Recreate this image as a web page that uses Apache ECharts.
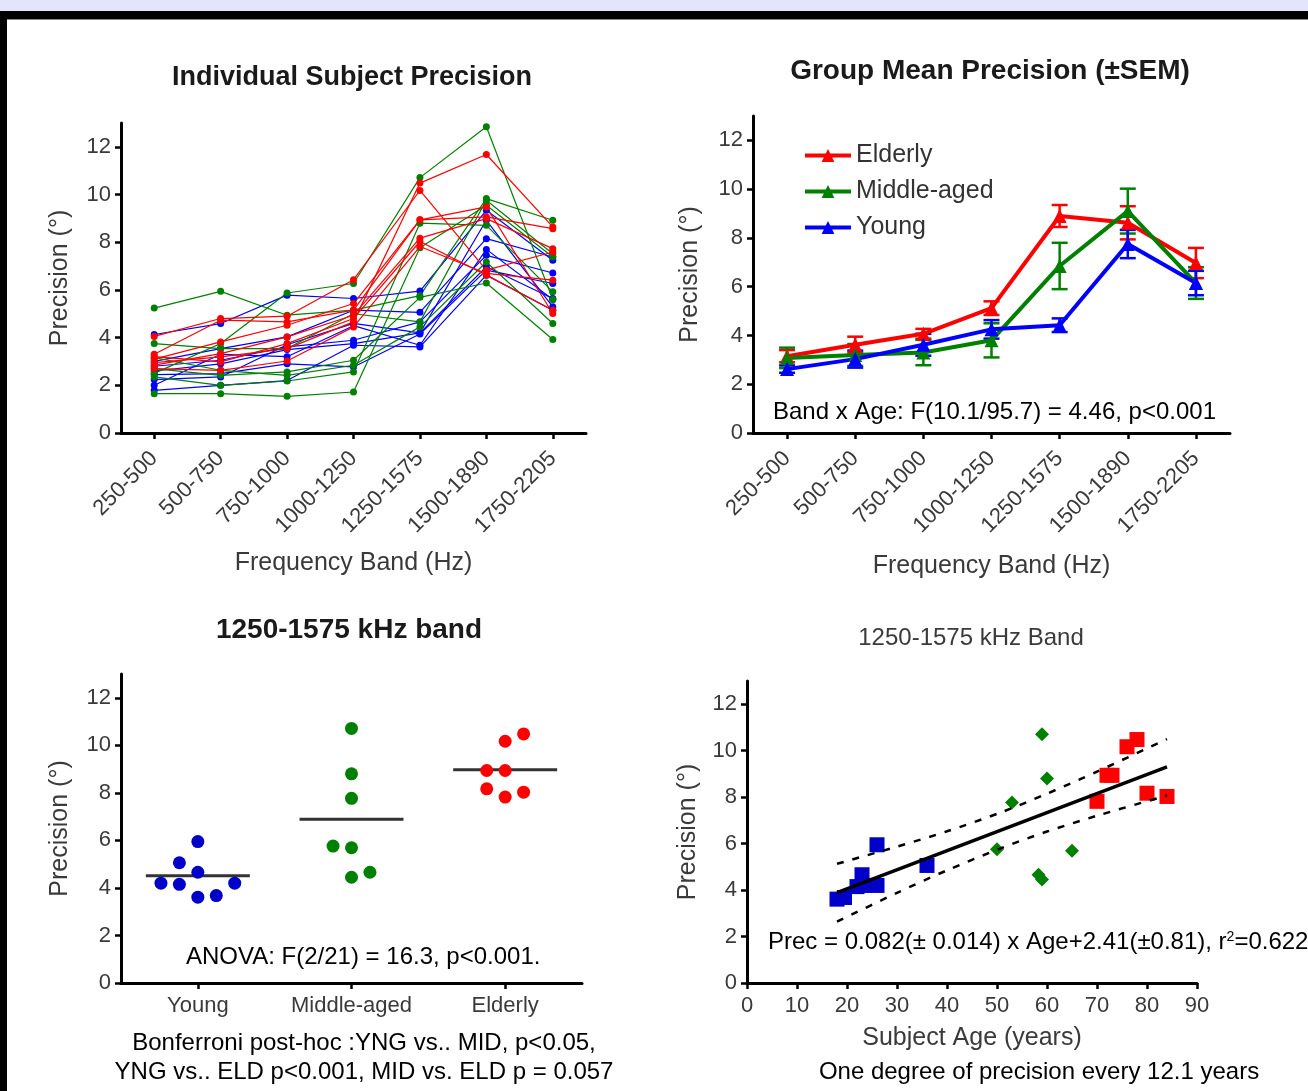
<!DOCTYPE html>
<html>
<head>
<meta charset="utf-8">
<style>
html, body { margin: 0; padding: 0; background: #fff; }
#chart { width: 1308px; height: 1091px; }
</style>
<script src="https://cdn.jsdelivr.net/npm/echarts@6/dist/echarts.min.js"></script>
</head>
<body>
<div id="chart"></div>
<script>
// ---- data ----
const bands = ['250-500', '500-750', '750-1000', '1000-1250', '1250-1575', '1500-1890', '1750-2205'];
const yTicks = [0, 2, 4, 6, 8, 10, 12];
const groups = ['Young', 'Middle-aged', 'Elderly'];

// individual subjects, precision per band
const youngSubjects = [
    [4.13, 4.59, 5.78, 5.64, 5.95, 9.34, 7.24],
    [3.00, 3.54, 4.03, 5.15, 5.06, 8.15, 7.38],
    [2.80, 3.05, 3.61, 3.89, 4.66, 7.45, 6.71],
    [2.60, 2.90, 3.50, 3.75, 4.20, 6.97, 5.64],
    [2.45, 2.49, 2.90, 2.77, 4.15, 6.83, 6.27],
    [2.24, 2.35, 3.70, 4.60, 4.20, 8.92, 5.29],
    [1.79, 2.00, 2.20, 3.68, 3.61, 6.62, 5.15],
    [2.00, 3.30, 3.20, 4.50, 3.68, 7.70, 5.60]
];
const middleSubjects = [
    [2.50, 3.75, 5.87, 6.27, 10.71, 12.84, 5.60],
    [5.24, 5.94, 4.94, 5.15, 5.76, 9.83, 8.92],
    [3.75, 3.54, 3.54, 5.00, 4.66, 9.76, 7.52],
    [1.65, 1.65, 1.54, 1.72, 7.77, 9.55, 7.38],
    [2.35, 2.00, 2.18, 2.56, 8.80, 8.71, 5.92],
    [3.16, 2.63, 2.42, 2.84, 4.45, 7.17, 4.59],
    [2.70, 2.42, 2.56, 3.05, 5.69, 6.29, 3.92]
];
const elderlySubjects = [
    [2.95, 3.19, 3.54, 4.66, 10.48, 11.68, 8.64],
    [4.05, 4.80, 4.90, 6.43, 10.17, 6.83, 7.59],
    [3.30, 4.73, 4.66, 5.15, 8.94, 9.06, 8.57],
    [3.10, 3.82, 4.52, 5.43, 8.94, 9.48, 5.01],
    [2.85, 3.33, 4.03, 4.94, 8.17, 8.99, 7.73],
    [2.70, 2.63, 3.02, 4.45, 7.82, 6.69, 6.41],
    [3.20, 2.98, 3.75, 4.80, 8.03, 6.62, 5.15]
];

// group means and SEM
const elderlyMean = [3.15, 3.62, 4.07, 5.12, 8.90, 8.62, 6.97];
const elderlySem = [0.25, 0.33, 0.20, 0.28, 0.45, 0.68, 0.62];
const middleMean = [3.08, 3.20, 3.30, 3.80, 6.85, 9.10, 6.15];
const middleSem = [0.42, 0.45, 0.52, 0.70, 0.95, 0.92, 0.65];
const youngMean = [2.62, 3.03, 3.62, 4.25, 4.42, 7.75, 6.15];
const youngSem = [0.15, 0.35, 0.45, 0.38, 0.28, 0.58, 0.50];

// 1250-1575 band, dot plot (column = dot column inside the group)
const youngBand = [5.95, 5.06, 4.66, 4.20, 4.15, 4.20, 3.61, 3.68];
const youngCol = [0, -1, 0, -2, -1, 2, 0, 1];
const middleBand = [10.71, 8.80, 7.77, 5.76, 5.69, 4.45, 4.66];
const middleCol = [0, 0, 0, -1, 0, 0, 1];
const elderlyBand = [10.48, 10.17, 8.94, 8.94, 8.17, 7.82, 8.03];
const elderlyCol = [1, 0, -1, 0, -1, 0, 1];
const bandMeans = [4.51, 6.89, 8.97];

// precision vs age
const youngAge = [18, 19.5, 22, 23, 23.5, 26, 26, 36];
const youngPrec = [3.61, 3.68, 4.15, 4.66, 4.20, 4.20, 5.95, 5.06];
const middleAge = [59, 60, 53, 50, 65, 58.3, 59];
const middlePrec = [10.71, 8.80, 7.77, 5.76, 5.69, 4.66, 4.45];
const elderlyAge = [78, 76, 72, 73, 70, 80, 84];
const elderlyPrec = [10.48, 10.17, 8.94, 8.94, 7.82, 8.17, 8.03];
const fitAge = [18, 84];
const fitPrec = [3.89, 9.30];
const ciAge = [18, 30, 40, 51, 60, 70, 84];
const ciUpper = [5.13, 5.87, 6.53, 7.36, 8.15, 9.10, 10.50];
const ciLower = [2.64, 3.88, 4.85, 5.82, 6.52, 7.20, 8.07];
const ageTicks = [0, 10, 20, 30, 40, 50, 60, 70, 80, 90];

// ---- styling ----
const FONT = '"Liberation Sans", Arial, sans-serif';
const GRAY = '#3a3a3a';
const RED = '#ff0000';
const GREEN = '#008000';
const BLUE = '#0000ff';
const DBLUE = '#0000c8';

const chart = echarts.init(document.getElementById('chart'));

const axisLine = { show: true, onZero: false, lineStyle: { color: '#000', width: 3 } };
const tickStyle = { color: '#000', width: 2.5 };

function yAxisFor(gridIndex, gap) {
    return {
        type: 'value', gridIndex: gridIndex, min: 0, max: 13,
        name: 'Precision (°)', nameLocation: 'middle', nameGap: gap,
        nameTextStyle: { color: GRAY, fontSize: 25, fontFamily: FONT },
        axisLine: axisLine,
        axisTick: { show: true, length: 6, lineStyle: tickStyle, customValues: yTicks },
        axisLabel: { color: GRAY, fontSize: 22, fontFamily: FONT, margin: 10, customValues: yTicks },
        splitLine: { show: false }
    };
}

function bandAxis(gridIndex, gap) {
    return {
        type: 'category', gridIndex: gridIndex, data: bands, boundaryGap: true,
        name: 'Frequency Band (Hz)', nameLocation: 'middle', nameGap: gap,
        nameTextStyle: { color: GRAY, fontSize: 25, fontFamily: FONT },
        axisLine: axisLine,
        axisTick: { show: true, alignWithLabel: true, interval: 0, length: 6, lineStyle: tickStyle },
        axisLabel: { interval: 0, rotate: 45, color: GRAY, fontSize: 22, fontFamily: FONT, margin: 22 },
        splitLine: { show: false }
    };
}

const series = [];

// panel 1: spaghetti lines
function addSubjects(rows, color) {
    rows.forEach(function (r) {
        series.push({
            type: 'line', xAxisIndex: 0, yAxisIndex: 0, data: r,
            symbol: 'circle', symbolSize: 7,
            itemStyle: { color: color }, lineStyle: { color: color, width: 1.2 },
            silent: true
        });
    });
}
addSubjects(youngSubjects, BLUE);
addSubjects(middleSubjects, GREEN);
addSubjects(elderlySubjects, RED);

// panel 2: means with SEM bars
function errorBars(mean, sem, color) {
    return {
        type: 'custom', xAxisIndex: 1, yAxisIndex: 1,
        data: mean.map(function (m, i) { return [i, m - sem[i], m + sem[i]]; }),
        encode: { x: 0, y: [1, 2] },
        renderItem: function (params, api) {
            const lo = api.coord([api.value(0), api.value(1)]);
            const hi = api.coord([api.value(0), api.value(2)]);
            const w = 8;
            const st = { stroke: color, lineWidth: 2.5 };
            return {
                type: 'group', children: [
                    { type: 'line', shape: { x1: lo[0], y1: lo[1], x2: hi[0], y2: hi[1] }, style: st },
                    { type: 'line', shape: { x1: lo[0] - w, y1: lo[1], x2: lo[0] + w, y2: lo[1] }, style: st },
                    { type: 'line', shape: { x1: hi[0] - w, y1: hi[1], x2: hi[0] + w, y2: hi[1] }, style: st }
                ]
            };
        }
    };
}
function meanLine(name, mean, color) {
    return {
        type: 'line', name: name, xAxisIndex: 1, yAxisIndex: 1, data: mean,
        symbol: 'triangle', symbolSize: 14,
        itemStyle: { color: color }, lineStyle: { color: color, width: 4 }
    };
}
series.push(errorBars(elderlyMean, elderlySem, RED));
series.push(meanLine('Elderly', elderlyMean, RED));
series.push(errorBars(middleMean, middleSem, GREEN));
series.push(meanLine('Middle-aged', middleMean, GREEN));
series.push(errorBars(youngMean, youngSem, BLUE));
series.push(meanLine('Young', youngMean, BLUE));

// panel 3: dot plot
series.push({
    type: 'scatter', xAxisIndex: 2, yAxisIndex: 2,
    data: bandMeans.map(function (m, g) { return [g, m]; }),
    symbol: 'rect', symbolSize: [104, 3], itemStyle: { color: '#000' }
});
function dots(vals, cols, g, color) {
    return {
        type: 'scatter', xAxisIndex: 2, yAxisIndex: 2,
        data: vals.map(function (v, i) { return [g + cols[i] * 0.12, v]; }),
        symbol: 'circle', symbolSize: 13, itemStyle: { color: color, opacity: 1 }
    };
}
series.push(dots(youngBand, youngCol, 0, DBLUE));
series.push(dots(middleBand, middleCol, 1, GREEN));
series.push(dots(elderlyBand, elderlyCol, 2, RED));

// panel 4: precision vs age
function agePoints(ages, prec, symbol, size, color) {
    return {
        type: 'scatter', xAxisIndex: 3, yAxisIndex: 3,
        data: ages.map(function (a, i) { return [a, prec[i]]; }),
        symbol: symbol, symbolSize: size, itemStyle: { color: color, opacity: 1 }
    };
}
series.push(agePoints(youngAge, youngPrec, 'rect', 15, DBLUE));
series.push(agePoints(middleAge, middlePrec, 'diamond', 14, GREEN));
series.push(agePoints(elderlyAge, elderlyPrec, 'rect', 15, RED));
series.push({
    type: 'line', xAxisIndex: 3, yAxisIndex: 3,
    data: fitAge.map(function (a, i) { return [a, fitPrec[i]]; }),
    symbol: 'none', lineStyle: { color: '#000', width: 3.5 }
});
[ciUpper, ciLower].forEach(function (band) {
    series.push({
        type: 'line', xAxisIndex: 3, yAxisIndex: 3, smooth: 0.3,
        data: ciAge.map(function (a, i) { return [a, band[i]]; }),
        symbol: 'none', lineStyle: { color: '#000', width: 2.5, type: [7, 9] }
    });
});

function text(x, y, str, size, extra) {
    return {
        type: 'text', x: x, y: y, silent: true,
        style: Object.assign({
            text: str, fill: '#000', fontSize: size, fontFamily: FONT,
            align: 'center', verticalAlign: 'middle'
        }, extra || {})
    };
}

const option = {
    animation: false,
    backgroundColor: '#fff',
    grid: [
        { left: 121, top: 123, width: 465, height: 310 },
        { left: 753, top: 116, width: 477, height: 317 },
        { left: 121, top: 674, width: 461, height: 309 },
        { left: 747, top: 681, width: 450, height: 302 }
    ],
    legend: {
        data: ['Elderly', 'Middle-aged', 'Young'],
        orient: 'vertical', left: 798, top: 138,
        itemWidth: 46, itemHeight: 16, itemGap: 11,
        lineStyle: { width: 4 },
        textStyle: { color: '#333', fontSize: 25, fontFamily: FONT }
    },
    xAxis: [
        bandAxis(0, 118),
        bandAxis(1, 121),
        {
            type: 'value', gridIndex: 2, min: -0.5, max: 2.5,
            axisLine: axisLine,
            axisTick: { show: true, length: 6, lineStyle: tickStyle, customValues: [0, 1, 2] },
            axisLabel: {
                color: GRAY, fontSize: 22, fontFamily: FONT, margin: 12, customValues: [0, 1, 2],
                formatter: function (v) { return groups[Math.round(v)]; }
            },
            splitLine: { show: false }
        },
        {
            type: 'value', gridIndex: 3, min: 0, max: 90, interval: 10,
            name: 'Subject Age (years)', nameLocation: 'middle', nameGap: 43,
            nameTextStyle: { color: GRAY, fontSize: 25, fontFamily: FONT },
            axisLine: axisLine,
            axisTick: { show: true, length: 6, lineStyle: tickStyle, customValues: ageTicks },
            axisLabel: { color: GRAY, fontSize: 22, fontFamily: FONT, margin: 12, customValues: ageTicks },
            splitLine: { show: false }
        }
    ],
    yAxis: [yAxisFor(0, 48), yAxisFor(1, 50), yAxisFor(2, 48), yAxisFor(3, 46)],
    series: series,
    graphic: [
        { type: 'rect', shape: { x: 0, y: 0, width: 1308, height: 11 }, style: { fill: '#e4e4fd' }, silent: true },
        { type: 'rect', shape: { x: 0, y: 11, width: 1308, height: 8 }, style: { fill: '#000' }, silent: true },
        { type: 'rect', shape: { x: 0, y: 19, width: 1308, height: 1 }, style: { fill: '#888' }, silent: true },
        { type: 'rect', shape: { x: 0, y: 11, width: 7, height: 1080 }, style: { fill: '#000' }, silent: true },

        text(352, 78, 'Individual Subject Precision', 27, { fontWeight: 'bold', fill: '#1a1a1a' }),
        text(990, 71, 'Group Mean Precision (±SEM)', 28, { fontWeight: 'bold', fill: '#1a1a1a' }),
        text(349, 630, '1250-1575 kHz band', 28, { fontWeight: 'bold', fill: '#1a1a1a' }),
        text(971, 638, '1250-1575 kHz Band', 24, { fill: GRAY }),

        text(773, 412, 'Band x Age: F(10.1/95.7) = 4.46, p<0.001', 24, { align: 'left' }),
        text(186, 957, 'ANOVA: F(2/21) = 16.3, p<0.001.', 24, { align: 'left' }),
        text(768, 942, 'Prec = 0.082(± 0.014) x Age+2.41(±0.81), r{sup|2}=0.622', 24, {
            align: 'left',
            rich: { sup: { fontSize: 14, fontFamily: FONT, verticalAlign: 'top', fill: '#000' } }
        }),
        text(364, 1043, 'Bonferroni post-hoc :YNG vs.. MID, p<0.05,', 24),
        text(364, 1072, 'YNG vs.. ELD p<0.001, MID vs. ELD p = 0.057', 24),
        text(1039, 1072, 'One degree of precision every 12.1 years', 24)
    ]
};

chart.setOption(option);
</script>
</body>
</html>
